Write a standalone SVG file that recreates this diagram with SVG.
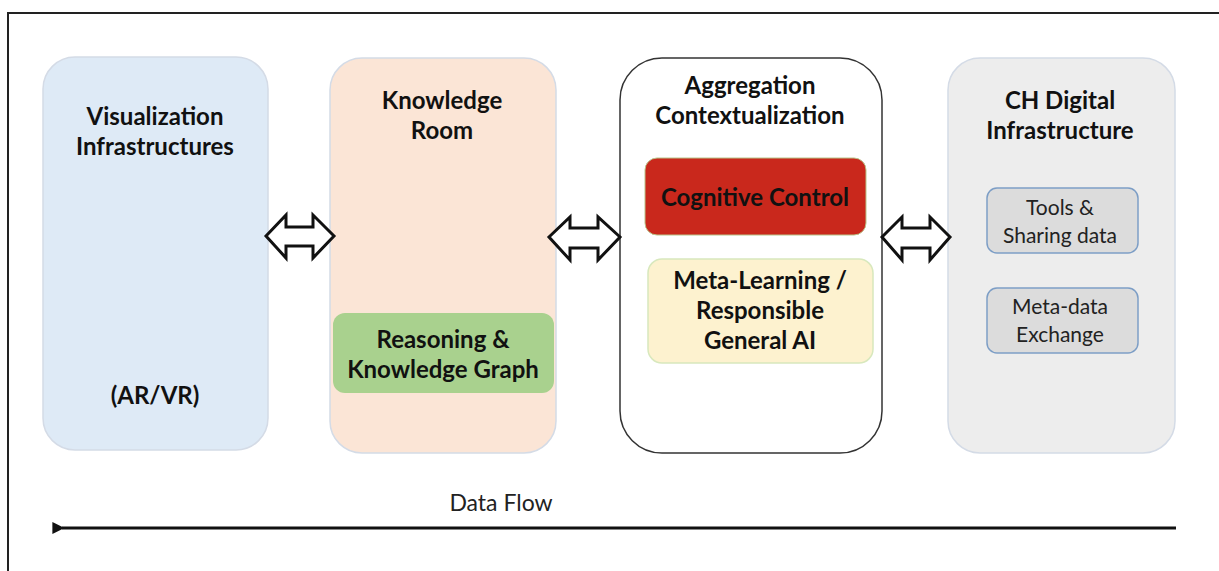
<svg xmlns="http://www.w3.org/2000/svg" width="1219" height="571" viewBox="0 0 1219 571">
<defs>
<style>
.t{font-family:Lato,"Noto Sans",sans-serif;font-weight:bold;font-size:24px;fill:#111;text-anchor:middle}
.s{font-family:Lato,"Noto Sans",sans-serif;font-size:21px;fill:#222;text-anchor:middle}
.big{stroke:#d4dbe6;stroke-width:1.5}
.dbl{fill:#fff;stroke:#111;stroke-width:3;stroke-linejoin:miter}
.sub{fill:#dcdcdc;stroke:#7d9ec6;stroke-width:1.5}
</style>
<marker id="ah" viewBox="0 0 10 10" refX="2" refY="5" markerWidth="4" markerHeight="4" orient="auto">
<path d="M10,0 L0,5 L10,10 z" fill="#111"/>
</marker>
</defs>
<rect width="1219" height="571" fill="#fff"/>
<path d="M8,571 V13 H1219" fill="none" stroke="#222" stroke-width="2"/>

<g id="visualization">
<rect class="big" x="43" y="57" width="225" height="393" rx="32" fill="#deeaf6"/>
<text class="t" x="155" y="125">Visualization</text>
<text class="t" x="155" y="155">Infrastructures</text>
<text class="t" x="155" y="404">(AR/VR)</text>
</g>

<g id="knowledge-room">
<rect class="big" x="330" y="58" width="226" height="395" rx="32" fill="#fbe5d6"/>
<text class="t" x="442" y="109">Knowledge</text>
<text class="t" x="442" y="139">Room</text>
<g id="reasoning">
<rect x="333" y="313" width="221" height="80" rx="12" fill="#a9d18e"/>
<text class="t" x="443" y="348">Reasoning &amp;</text>
<text class="t" x="443" y="378">Knowledge Graph</text>
</g>
</g>

<g id="aggregation">
<rect x="620" y="58" width="262" height="395" rx="42" fill="#fff" stroke="#333" stroke-width="1.5"/>
<text class="t" x="750" y="94">Aggregation</text>
<text class="t" x="750" y="124">Contextualization</text>
<g id="cognitive-control">
<rect x="645" y="158" width="221" height="77" rx="12" fill="#c9281c" stroke="#b8c48a" stroke-width="1"/>
<text class="t" x="755" y="206">Cognitive Control</text>
</g>
<g id="meta-learning">
<rect x="648" y="259" width="225" height="104" rx="14" fill="#fdf2cf" stroke="#d8e8bd" stroke-width="1.5"/>
<text class="t" x="760" y="289">Meta-Learning /</text>
<text class="t" x="760" y="319">Responsible</text>
<text class="t" x="760" y="349">General AI</text>
</g>
</g>

<g id="ch-digital">
<rect class="big" x="948" y="58" width="227" height="395" rx="32" fill="#ededed"/>
<text class="t" x="1060" y="109">CH Digital</text>
<text class="t" x="1060" y="139">Infrastructure</text>
<g id="tools">
<rect class="sub" x="987" y="188" width="151" height="65" rx="10"/>
<text class="s" x="1060" y="215">Tools &amp;</text>
<text class="s" x="1060" y="243">Sharing data</text>
</g>
<g id="metadata">
<rect class="sub" x="987" y="288" width="151" height="65" rx="10"/>
<text class="s" x="1060" y="314">Meta-data</text>
<text class="s" x="1060" y="342">Exchange</text>
</g>
</g>

<g id="connectors">
<polygon class="dbl" points="266,236 286,215 286,227 313,227 313,215 334,236 313,258 313,246 286,246 286,258"/>
<polygon class="dbl" points="549,237 570,217 570,228 598,228 598,217 620,237 598,260 598,248 570,248 570,260"/>
<polygon class="dbl" points="882,237 902,217 902,228 930,228 930,217 950,237 930,260 930,248 902,248 902,260"/>
<line x1="1176" y1="528" x2="62" y2="528" stroke="#111" stroke-width="3" marker-end="url(#ah)"/>
<text x="501" y="511" font-family="Lato,'Noto Sans',sans-serif" font-size="23" fill="#222" text-anchor="middle">Data Flow</text>
</g>
</svg>
